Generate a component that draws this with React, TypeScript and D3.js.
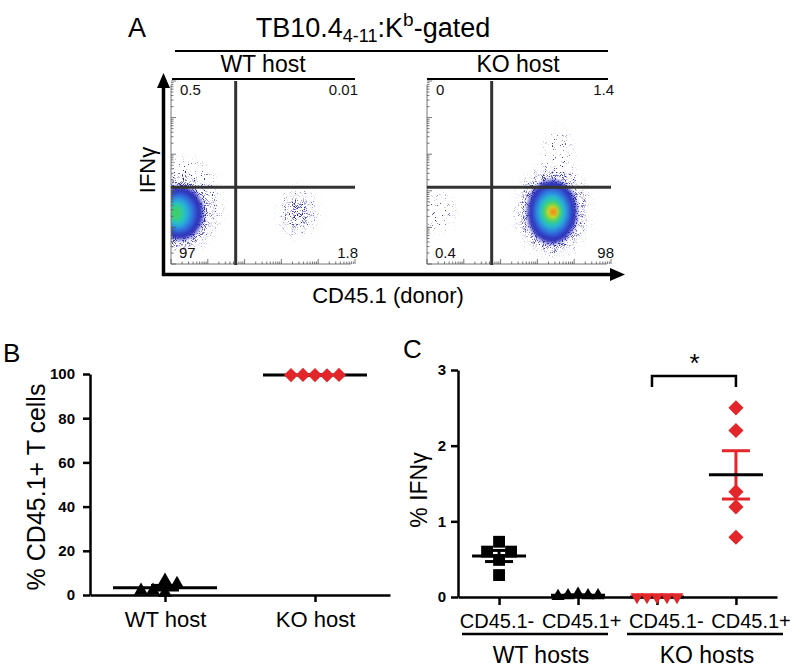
import React, { useEffect, useRef } from 'react'
import * as d3 from 'd3'

const FONT = '"Liberation Sans", Arial, Helvetica, sans-serif'
const RED = '#e3262a'

// ---------- panel A : flow plots ----------
const hosts = ['WT host', 'KO host']
const wtQuadLabels = ['0.5', '0.01', '97', '1.8'] // UL, UR, LL, LR
const koQuadLabels = ['0', '1.4', '0.4', '98']
// quadrant gates in channel units (0-1024)
const gateCD45 = 360
const gateIFN = 430
// density colours sparse -> dense
const densityColors = ['#2a2ab4', '#3460d8', '#2a9fe0', '#28c8c0', '#3ccf6a', '#a6dc30', '#f0d820', '#f28a20', '#e42a1c']
// clusters: [CD45.1, IFNg, spreadX, spreadY, dense?]
const wtRecipientSparse = [[70, 330, 200, 250, 0], [55, 290, 165, 190, 1]]
const wtRecipientCore = [[50, 285, 130, 150], [45, 285, 100, 118], [40, 285, 75, 90], [35, 285, 52, 64], [28, 285, 32, 42]]
const wtDonorSparse = [[710, 290, 100, 130, 0], [705, 285, 62, 82, 1]]
const koRecipientSparse = [[60, 290, 80, 100, 0]]
const koDonorSparse = [[700, 300, 200, 250, 0], [730, 520, 80, 230, 0], [696, 295, 170, 215, 1]]
const koDonorCore = [[696, 292, 138, 178], [696, 292, 110, 142], [696, 292, 88, 112], [696, 292, 68, 86], [696, 292, 50, 62], [698, 292, 36, 44], [700, 292, 25, 30], [702, 292, 15, 18], [703, 292, 8, 9]]

// ---------- panel B ----------
const bCats = ['WT host', 'KO host']
const bWt = [6.5, 2, 5, 1, 2]
const bKo = [99.5, 99.6, 99.4, 99.5, 99.6]
const bTicks = [0, 20, 40, 60, 80, 100]

// ---------- panel C ----------
const cCats = ['wtNeg', 'wtPos', 'koNeg', 'koPos']
const cLabels = ['CD45.1-', 'CD45.1+', 'CD45.1-', 'CD45.1+']
const cGroups = ['WT hosts', 'KO hosts']
const cWtNeg = [0.73, 0.6, 0.6, 0.49, 0.29]
const cWtPos = [0.04, 0.02, 0.02, 0.01, 0.02]
const cKoNeg = [0, 0, 0, 0, 0]
const cKoPos = [2.5, 2.2, 1.39, 1.19, 0.79]
const cTicks = [0, 1, 2, 3]

// prism style horizontal spreading of overlapping points
function swarm(values: number[], y: (v: number) => number, step: number) {
  const placed: { dx: number; py: number }[] = []
  return values.map((v) => {
    const py = y(v)
    const cands = [0]
    for (let k = 1; k < 10; k++) cands.push(-k * step, k * step)
    for (const dx of cands) {
      if (!placed.some((p) => Math.abs(p.dx - dx) < step * 0.99 && Math.abs(p.py - py) < step)) {
        placed.push({ dx, py })
        return { v, dx, py }
      }
    }
    return { v, dx: 0, py }
  })
}

function AxisG({ axis, fontSize = 15, bold = true, width = 2.5 }: any) {
  const ref = useRef<SVGGElement>(null)
  useEffect(() => {
    const g = d3.select(ref.current)
    g.call(axis)
    g.attr('font-family', FONT)
    g.select('.domain').attr('stroke-width', width)
    g.selectAll('.tick line').attr('stroke-width', width)
    g.selectAll('.tick text')
      .attr('fill', '#000')
      .attr('font-size', fontSize)
      .attr('font-weight', bold ? 'bold' : 'normal')
  })
  return <g ref={ref} />
}

function FlowPlot({ id, left, top, width, height, quad, sparse, core }: any) {
  const fx = d3.scaleLinear().domain([0, 1024]).range([left, left + width])
  const fy = d3.scaleLinear().domain([0, 1024]).range([top + height, top])
  const tx = d3.scaleLog().domain([1, 1e5]).range([left, left + width])
  const ty = d3.scaleLog().domain([1, 1e5]).range([top + height, top])
  const major = (t: number) => Math.abs(Math.log10(t) - Math.round(Math.log10(t))) < 1e-6
  const ell = (c: number[]) => ({ cx: fx(c[0]), cy: fy(c[1]), rx: fx(c[2]) - fx(0), ry: fy(0) - fy(c[3]) })
  const bottom = top + height
  return (
    <g>
      <clipPath id={`clip-${id}`}>
        <rect x={left} y={top} width={width} height={height} />
      </clipPath>
      <g clipPath={`url(#clip-${id})`}>
        {sparse.map((c: number[], i: number) => (
          <ellipse key={i} {...ell(c)} fill="#2626b0" filter={c[4] ? 'url(#speckleDense)' : 'url(#speckleLight)'} />
        ))}
        {core.map((c: number[], i: number) => (
          <ellipse key={'c' + i} {...ell(c)} fill={densityColors[i]} filter="url(#soft)" />
        ))}
      </g>
      {/* edge ticks */}
      <line x1={left} x2={left} y1={top + 4} y2={bottom} stroke="#777" strokeWidth={1} />
      <line x1={left} x2={left + width - 4} y1={bottom} y2={bottom} stroke="#777" strokeWidth={1} />
      {ty.ticks().map((t, i) => (
        <line key={'ty' + i} x1={left} x2={left + (major(t) ? 5 : 2.5)} y1={ty(t)} y2={ty(t)} stroke="#555" strokeWidth={0.8} />
      ))}
      {tx.ticks().map((t, i) => (
        <line key={'tx' + i} x1={tx(t)} x2={tx(t)} y1={bottom} y2={bottom - (major(t) ? 5 : 2.5)} stroke="#555" strokeWidth={0.8} />
      ))}
      {/* quadrant gates */}
      <line x1={fx(gateCD45)} x2={fx(gateCD45)} y1={top} y2={bottom + 1} stroke="#333" strokeWidth={3} />
      <line x1={left} x2={left + width} y1={fy(gateIFN)} y2={fy(gateIFN)} stroke="#333" strokeWidth={3} />
      <g fontFamily={FONT} fontSize={15} fill="#111">
        <text x={left + 9} y={top + 14}>{quad[0]}</text>
        <text x={left + width + 3} y={top + 14} textAnchor="end">{quad[1]}</text>
        <text x={left + 8} y={bottom - 6}>{quad[2]}</text>
        <text x={left + width + 3} y={bottom - 6} textAnchor="end">{quad[3]}</text>
      </g>
    </g>
  )
}

function Dot({ shape, x, y, size, fill }: any) {
  let type = d3.symbolSquare
  let rot = 0
  if (shape === 'tri') type = d3.symbolTriangle
  if (shape === 'down') { type = d3.symbolTriangle; rot = 180 }
  if (shape === 'diamond') rot = 45
  const d = d3.symbol().type(type).size(size)() as string
  return <path d={d} fill={fill} transform={`translate(${x},${y}) rotate(${rot})`} />
}

function Group({ values, x, y, step, shape, size, color, meanHalf, semHalf, semColor }: any) {
  const pts = swarm(values, y, step)
  const m = d3.mean(values) as number
  const sem = (d3.deviation(values) || 0) / Math.sqrt(values.length)
  return (
    <g>
      <line x1={x} x2={x} y1={y(m + sem)} y2={y(m - sem)} stroke={semColor} strokeWidth={3} />
      <line x1={x - semHalf} x2={x + semHalf} y1={y(m + sem)} y2={y(m + sem)} stroke={semColor} strokeWidth={3} />
      <line x1={x - semHalf} x2={x + semHalf} y1={y(m - sem)} y2={y(m - sem)} stroke={semColor} strokeWidth={3} />
      <line x1={x - meanHalf} x2={x + meanHalf} y1={y(m)} y2={y(m)} stroke="#000" strokeWidth={3} />
      {pts.map((p, i) => (
        <Dot key={i} shape={shape} x={x + p.dx} y={p.py} size={size} fill={color} />
      ))}
    </g>
  )
}

export default function App() {
  // panel B scales
  const yB = d3.scaleLinear().domain([0, 100]).range([595, 374])
  const xB = d3.scalePoint().domain(bCats).range([90, 390]).padding(0.5)
  // panel C scales
  const yC = d3.scaleLinear().domain([0, 3]).range([597, 370])
  const xC = d3.scalePoint().domain(cCats).range([458, 777]).padding(0.52)
  const labelC = d3.scalePoint().domain(cCats).range([497, 751])

  const cData = [cWtNeg, cWtPos, cKoNeg, cKoPos]
  const cShapes = ['square', 'tri', 'down', 'diamond']
  const cSizes = [140, 75, 70, 115]
  const cColors = ['#000', '#000', RED, RED]

  return (
    <div style={{ position: 'absolute', left: 0, top: 0 }}>
      <svg width={793} height={670} style={{ display: 'block', background: '#fff' }}>
        <defs>
          <filter id="speckleLight" x="-50%" y="-50%" width="200%" height="200%">
            <feGaussianBlur in="SourceGraphic" stdDeviation="5" result="b" />
            <feTurbulence type="fractalNoise" baseFrequency="1.1" numOctaves="1" seed="4" result="n" />
            <feColorMatrix in="n" type="matrix" values="0 0 0 0 0  0 0 0 0 0  0 0 0 0 0  14 0 0 0 -9.0" result="dots" />
            <feComposite in="b" in2="dots" operator="in" />
          </filter>
          <filter id="speckleDense" x="-50%" y="-50%" width="200%" height="200%">
            <feGaussianBlur in="SourceGraphic" stdDeviation="4" result="b" />
            <feTurbulence type="fractalNoise" baseFrequency="1.1" numOctaves="1" seed="9" result="n" />
            <feColorMatrix in="n" type="matrix" values="0 0 0 0 0  0 0 0 0 0  0 0 0 0 0  12 0 0 0 -6.6" result="dots" />
            <feComposite in="b" in2="dots" operator="in" />
          </filter>
          <filter id="soft" x="-50%" y="-50%" width="200%" height="200%">
            <feGaussianBlur stdDeviation="2.2" />
          </filter>
        </defs>

        {/* ---------- A ---------- */}
        <g fontFamily={FONT} fill="#000">
          <text x={128} y={37} fontSize={27}>A</text>
          <text x={373} y={37} fontSize={27} textAnchor="middle">
            TB10.4<tspan fontSize={18} dy={5}>4-11</tspan>
            <tspan dy={-5}>:K</tspan>
            <tspan fontSize={19} dy={-11}>b</tspan>
            <tspan dy={11}>-gated</tspan>
          </text>
          <text x={263} y={72} fontSize={23} textAnchor="middle">{hosts[0]}</text>
          <text x={518} y={72} fontSize={23} textAnchor="middle">{hosts[1]}</text>
          <text transform="translate(155,170) rotate(-90)" fontSize={22} textAnchor="middle">IFNγ</text>
          <text x={388} y={303} fontSize={22} textAnchor="middle">CD45.1 (donor)</text>
        </g>
        <line x1={175} x2={608} y1={51} y2={51} stroke="#000" strokeWidth={2} />
        <line x1={172} x2={355} y1={79} y2={79} stroke="#000" strokeWidth={2} />
        <line x1={427} x2={608} y1={79} y2={79} stroke="#000" strokeWidth={2} />

        <FlowPlot id="wt" left={171} top={81} width={184} height={183} quad={wtQuadLabels}
          sparse={wtRecipientSparse.concat(wtDonorSparse)} core={wtRecipientCore} />
        <FlowPlot id="ko" left={427} top={81} width={184} height={183} quad={koQuadLabels}
          sparse={koRecipientSparse.concat(koDonorSparse)} core={koDonorCore} />

        {/* arrow axes */}
        <line x1={163.5} x2={163.5} y1={276} y2={84} stroke="#000" strokeWidth={3.5} />
        <path d="M163.5,73 L157,88 L170,88 Z" fill="#000" />
        <line x1={162} x2={612} y1={274.5} y2={274.5} stroke="#000" strokeWidth={3.5} />
        <path d="M625,274.5 L610,268 L610,281 Z" fill="#000" />

        {/* ---------- B ---------- */}
        <text x={3} y={362} fontFamily={FONT} fontSize={26}>B</text>
        <g transform="translate(90,0)">
          <AxisG axis={d3.axisLeft(yB).tickValues(bTicks).tickSize(7).tickSizeOuter(0).tickPadding(8).tickFormat(d3.format('d'))} />
        </g>
        <g transform="translate(0,595)">
          <AxisG axis={d3.axisBottom(xB).tickSize(7).tickSizeOuter(0).tickPadding(9)} fontSize={22} bold={false} />
        </g>
        <text transform="translate(45,487) rotate(-90)" fontFamily={FONT} fontSize={25} textAnchor="middle">% CD45.1+ T cells</text>
        <Group values={bWt} x={xB('WT host')} y={yB} step={12} shape="tri" size={85} color="#000"
          meanHalf={52} semHalf={14} semColor="#000" />
        <Group values={bKo} x={xB('KO host')} y={yB} step={12} shape="diamond" size={100} color={RED}
          meanHalf={52} semHalf={14} semColor={RED} />

        {/* ---------- C ---------- */}
        <text x={403} y={358} fontFamily={FONT} fontSize={26}>C</text>
        <g transform="translate(458,0)">
          <AxisG axis={d3.axisLeft(yC).tickValues(cTicks).tickSize(7).tickSizeOuter(0).tickPadding(5).tickFormat(d3.format('d'))} />
        </g>
        <g transform="translate(0,597)">
          <AxisG axis={d3.axisBottom(xC).tickSize(8).tickSizeOuter(0).tickFormat(() => '')} />
        </g>
        <text transform="translate(427,490) rotate(-90)" fontFamily={FONT} fontSize={23} textAnchor="middle">% IFNγ</text>
        {cCats.map((c, i) => (
          <Group key={c} values={cData[i]} x={xC(c)} y={yC} step={i === 0 ? 12 : 10} shape={cShapes[i]}
            size={cSizes[i]} color={cColors[i]} meanHalf={27} semHalf={14} semColor={cColors[i]} />
        ))}
        <g fontFamily={FONT} fontSize={20} textAnchor="middle">
          {cCats.map((c, i) => (
            <text key={c} x={labelC(c)} y={628}>{cLabels[i]}</text>
          ))}
          <text x={541} y={663} fontSize={23}>{cGroups[0]}</text>
          <text x={707} y={663} fontSize={23}>{cGroups[1]}</text>
        </g>
        <line x1={462} x2={608} y1={634} y2={634} stroke="#000" strokeWidth={2.5} />
        <line x1={627} x2={783} y1={634} y2={634} stroke="#000" strokeWidth={2.5} />
        {/* significance bracket */}
        <path d={`M${xC('koNeg')! - 5},387 V376 H${xC('koPos')} V387`} fill="none" stroke="#000" strokeWidth={2.5} />
        <text x={(xC('koNeg')! + xC('koPos')!) / 2 - 2} y={372} fontFamily={FONT} fontSize={26} textAnchor="middle">*</text>
      </svg>
    </div>
  )
}
